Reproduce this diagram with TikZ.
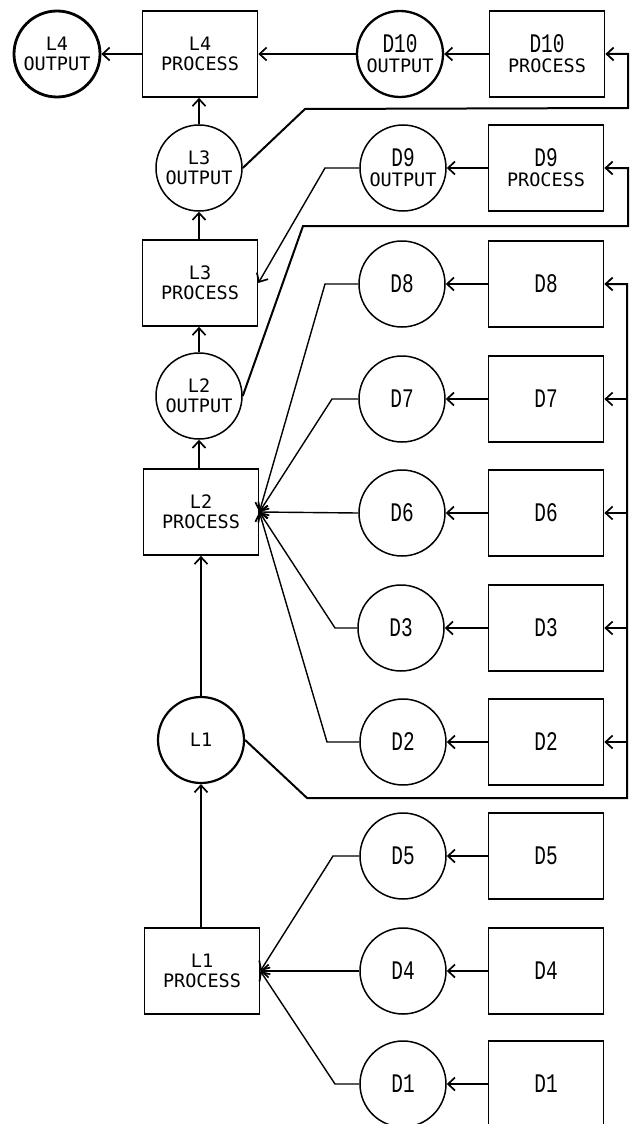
\documentclass[tikz,border=0pt]{standalone}
\usepackage{fontspec}
\usepackage{graphicx}
\usetikzlibrary{arrows.meta}
\newfontfamily\labfont{DejaVu Sans Mono}
\newfontfamily\dfont{Liberation Mono}
\newcommand\tfont{\fontsize{18.5}{20}\selectfont\labfont}
\newcommand\dd[1]{\scalebox{1.05}[1.45]{\dfont #1}}
\tikzset{
  pbox/.style={draw, line width=1.7pt, minimum width=115pt, minimum height=86pt, inner sep=0pt, align=center, font=\tfont},
  dcirc/.style={draw, circle, line width=1.5pt, minimum size=86pt, inner sep=0pt, align=center, font=\tfont},
  conn/.style={line width=1.4pt, line join=miter},
  bus/.style={line width=2pt, line join=miter},
  arr/.style={conn, -{Straight Barb[length=7pt,width=13pt,line width=1.7pt]}},
  busarr/.style={bus, -{Straight Barb[length=7pt,width=13pt,line width=1.8pt]}}
}
\begin{document}
\begin{tikzpicture}[x=1pt,y=-1pt]
\clip (0,0) rectangle (631,1124);
\fill[white] (0,0) rectangle (631,1124);
% L chain
\node[dcirc, line width=2.8pt] (L4o) at (57,54) {L4\\OUTPUT};
\node[pbox] (L4p) at (200,54) {L4\\PROCESS};
\node[dcirc] (L3o) at (199,168) {L3\\OUTPUT};
\node[pbox] (L3p) at (200,283) {L3\\PROCESS};
\node[dcirc] (L2o) at (199,396) {L2\\OUTPUT};
\node[pbox] (L2p) at (201,512) {L2\\PROCESS};
\node[dcirc, line width=2.2pt] (L1) at (201,740) {L1};
\node[pbox] (L1p) at (202,971) {L1\\PROCESS};
% D column
\node[dcirc, line width=2.3pt] (D10o) at (400,54) {\dd{D10}\\OUTPUT};
\node[pbox] (D10p) at (547,54) {\dd{D10}\\PROCESS};
\node[dcirc] (D9o) at (403,168) {\dd{D9}\\OUTPUT};
\node[pbox] (D9p) at (546,168) {\dd{D9}\\PROCESS};
\node[dcirc] (D8o) at (402,284) {\dd{D8}};
\node[pbox] (D8p) at (546,284) {\dd{D8}};
\node[dcirc] (D7o) at (402,399) {\dd{D7}};
\node[pbox] (D7p) at (546,399) {\dd{D7}};
\node[dcirc] (D6o) at (402,513) {\dd{D6}};
\node[pbox] (D6p) at (546,513) {\dd{D6}};
\node[dcirc] (D3o) at (401,628) {\dd{D3}};
\node[pbox] (D3p) at (546,628) {\dd{D3}};
\node[dcirc] (D2o) at (403,742) {\dd{D2}};
\node[pbox] (D2p) at (546,742) {\dd{D2}};
\node[dcirc] (D5o) at (403,856) {\dd{D5}};
\node[pbox] (D5p) at (546,856) {\dd{D5}};
\node[dcirc] (D4o) at (403,971) {\dd{D4}};
\node[pbox] (D4p) at (546,971) {\dd{D4}};
\node[dcirc] (D1o) at (403,1084) {\dd{D1}};
\node[pbox] (D1p) at (546,1084) {\dd{D1}};
% corners
\coordinate (c9) at (325,168);
\coordinate (c8) at (325,284);
\coordinate (c7) at (332,399);
\coordinate (c3) at (335,628);
\coordinate (c2) at (327,742);
\coordinate (c5) at (333,856);
\coordinate (c1) at (335,1084);
\coordinate (a1) at (305,109);
\coordinate (a2) at (628,108);
\coordinate (a3) at (628,54);
\coordinate (b1) at (303,226);
\coordinate (b2) at (628,226);
\coordinate (b3) at (628,168);
\coordinate (k1) at (307,798);
\coordinate (k2) at (627,798);
\coordinate (k8) at (627,284);
\coordinate (k7) at (627,399);
\coordinate (k6) at (627,513);
\coordinate (k3) at (627,628);
\coordinate (k2b) at (627,742);
% L chain arrows
\draw[arr] (L4p.west) -- (L4o.east);
\draw[arr] (L3o.north) -- (L4p.south -| L3o.north);
\draw[arr] (L3p.north -| L3o.south) -- (L3o.south);
\draw[arr] (L2o.north) -- (L3p.south -| L2o.north);
\draw[arr] (L2p.north -| L2o.south) -- (L2o.south);
\draw[arr] (L1.north) -- (L1.north |- L2p.south);
\draw[arr] (L1p.north -| L1.south) -- (L1.south);
% D process -> D output
\foreach \d in {D10,D9,D8,D7,D6,D3,D2,D5,D4,D1}{
  \draw[arr] (\d p.west) -- (\d o.east);
}
% D outputs -> L processes
\draw[arr] (D10o.west) -- (L4p.east);
\draw[arr] (D9o.west) -- (c9) -- (L3p.east);
\draw[arr] (D8o.west) -- (c8) -- (L2p.east);
\draw[arr] (D7o.west) -- (c7) -- (L2p.east);
\draw[arr] (D6o.west) -- (L2p.east);
\draw[arr] (D3o.west) -- (c3) -- (L2p.east);
\draw[arr] (D2o.west) -- (c2) -- (L2p.east);
\draw[arr] (D5o.west) -- (c5) -- (L1p.east);
\draw[arr] (D4o.west) -- (L1p.east);
\draw[arr] (D1o.west) -- (c1) -- (L1p.east);
% feedback buses
\draw[busarr] (L3o.east) -- (a1) -- (a2) -- (a3) -- (D10p.east);
\draw[busarr] (L2o.east) -- (b1) -- (b2) -- (b3) -- (D9p.east);
\draw[busarr] (L1.east) -- (k1) -- (k2) -- (k8) -- (D8p.east);
\draw[arr] (k7) -- (D7p.east);
\draw[arr] (k6) -- (D6p.east);
\draw[arr] (k3) -- (D3p.east);
\draw[arr] (k2b) -- (D2p.east);
\end{tikzpicture}
\end{document}
